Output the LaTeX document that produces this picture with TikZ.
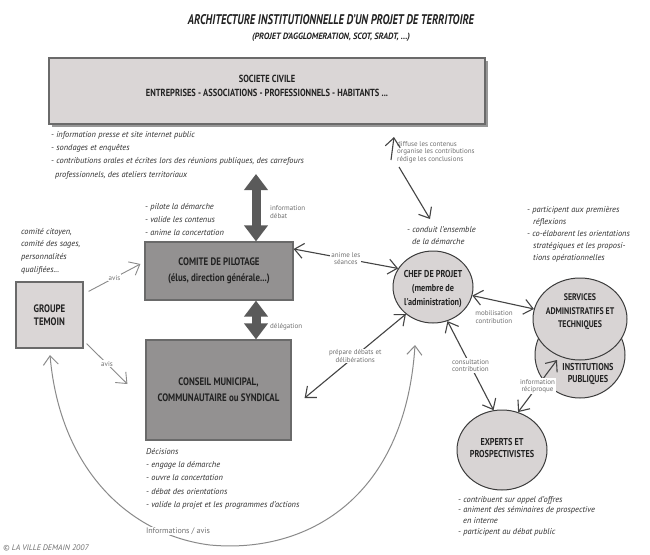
\documentclass[tikz,border=0pt]{standalone}
\usepackage{fontspec}
\setmainfont{PT Sans}
\newfontfamily\cond[FakeStretch=0.82]{PT Sans}
\usetikzlibrary{arrows.meta,shapes.geometric}
\definecolor{boxlight}{HTML}{DAD6D6}
\definecolor{boxdark}{HTML}{939191}
\definecolor{edgegray}{HTML}{6A6A6A}
\definecolor{circfill}{HTML}{D8D4D4}
\definecolor{circedge}{HTML}{3C3C3C}
\definecolor{txt}{HTML}{303030}
\definecolor{txtbox}{HTML}{222222}
\definecolor{lblgray}{HTML}{707070}
\definecolor{thickgray}{HTML}{5A5A5A}
\definecolor{thingray}{HTML}{444444}
\definecolor{softgray}{HTML}{8A8A8A}
\begin{document}
\begin{tikzpicture}[x=1pt,y=-1pt,
  sbox/.style={draw=edgegray, line width=1.3pt, fill=boxlight, inner sep=0pt},
  dbox/.style={draw=edgegray, line width=1.2pt, fill=boxdark, align=center, inner sep=0pt,
    font=\cond\bfseries\fontsize{10.8}{16}\selectfont, text=txtbox},
  lbox/.style={draw=edgegray, line width=1.2pt, fill=boxlight, align=center, inner sep=0pt,
    font=\cond\bfseries\fontsize{10.8}{13}\selectfont, text=txtbox},
  circ/.style={ellipse, draw=circedge, line width=1pt, fill=circfill, inner sep=0pt},
  circtext/.style={align=center, inner sep=0pt, font=\cond\bfseries\fontsize{10}{14}\selectfont, text=txtbox},
  itlist/.style={anchor=north west, align=left, inner sep=0pt, font=\itshape\fontsize{8.4}{13.3}\selectfont, text=txt},
  lbl/.style={align=center, inner sep=1pt, font=\fontsize{7}{7.5}\selectfont, text=lblgray},
  thickarrow/.style={draw=thickgray, line width=9pt, {Triangle[length=16pt,width=23pt]}-{Triangle[length=16pt,width=23pt]}},
  arr/.style={draw=thingray, line width=1.1pt, {Straight Barb[length=9pt,width=15pt]}-{Straight Barb[length=9pt,width=15pt]}},
  arrone/.style={draw=thingray, line width=1.1pt, -{Straight Barb[length=9pt,width=15pt]}},
  softarr/.style={draw=softgray, line width=0.9pt, -{Straight Barb[length=9pt,width=15pt]}},
  curvearr/.style={draw=softgray, line width=1pt, {Straight Barb[length=9pt,width=15pt]}-{Straight Barb[length=9pt,width=15pt]}},
]
\useasboundingbox[fill=white] (0,0) rectangle (650,554);

% title
\node[text=txtbox] (title) at (331,20) {\resizebox{286pt}{10pt}{\bfseries\itshape ARCHITECTURE INSTITUTIONNELLE D'UN PROJET DE TERRITOIRE}};
\node[text=txtbox] (subtitle) at (331,37) {\resizebox{158pt}{6.5pt}{\bfseries\itshape (PROJET D'AGGLOMERATION, SCOT, SRADT, ...)}};

% societe civile
\fill[edgegray!70] (51.5,60.5) rectangle (487.5,126.5);
\node[sbox, minimum width=436pt, minimum height=66pt,
  label={[align=center, yshift=5pt, font=\cond\bfseries\fontsize{10.3}{14}\selectfont, text=txtbox]center:{SOCIETE CIVILE\\ENTREPRISES - ASSOCIATIONS - PROFESSIONNELS - HABITANTS ...}}]
  (soc) at (267,91) {};

\node[itlist] (soclist) at (51,131) {- information presse et site internet public\\- sondages et enquêtes\\- contributions orales et écrites lors des réunions publiques, des carrefours\\\hspace*{4pt}professionnels, des ateliers territoriaux};

% boxes
\node[dbox, minimum width=148pt, minimum height=58pt] (comite) at (219,271) {COMITE DE PILOTAGE\\(élus, direction générale...)};
\node[dbox, minimum width=145pt, minimum height=100pt] (conseil) at (218.5,390) {CONSEIL MUNICIPAL,\\COMMUNAUTAIRE ou SYNDICAL};
\node[lbox, minimum width=67pt, minimum height=66pt] (groupe) at (49.5,315) {GROUPE\\TEMOIN};

\node[itlist] (pilote) at (145,203) {- pilote la démarche\\- valide les contenus\\- anime la concertation};
\node[itlist, font=\itshape\fontsize{8.4}{12.7}\selectfont] (citoyen) at (21,228) {comité citoyen,\\comité des sages,\\personnalités\\qualifiées...};
\node[itlist] (decisions) at (146,448) {Décisions\\- engage la démarche\\- ouvre la concertation\\- débat des orientations\\- valide la projet et les programmes d'actions};

% circles
\node[circ, minimum width=90pt, minimum height=86pt,
  label={[circtext, xshift=8pt, yshift=-19pt, font=\cond\bfseries\fontsize{10}{12}\selectfont]center:{INSTITUTIONS\\PUBLIQUES}}] (inst) at (580,355) {};
\node[circ, minimum width=94pt, minimum height=82pt,
  label={[circtext, yshift=7pt, font=\cond\bfseries\fontsize{9.6}{13.5}\selectfont]center:{SERVICES\\ADMINISTRATIFS ET\\TECHNIQUES}}] (services) at (580,319) {};
\node[circ, minimum width=80pt, minimum height=72pt,
  label={[circtext, yshift=-2pt]center:{CHEF DE PROJET\\(membre de\\l'administration)}}] (chef) at (433,287) {};
\node[circ, minimum width=90pt, minimum height=80pt,
  label={[circtext, yshift=2pt, font=\cond\bfseries\fontsize{10}{11.5}\selectfont]center:{EXPERTS ET\\PROSPECTIVISTES}}] (experts) at (502,450) {};

\node[itlist, font=\itshape\fontsize{8.4}{12}\selectfont] (conduit) at (407,226) {- conduit l'ensemble\\\hspace*{5pt}de la démarche};
\node[itlist, font=\itshape\fontsize{8.4}{12}\selectfont] (participent) at (527,206) {- participent aux premières\\\hspace*{6pt}réflexions\\- co-élaborent les orientations\\\hspace*{6pt}stratégiques et les proposi-\\\hspace*{6pt}tions opérationnelles};
\node[itlist, font=\itshape\fontsize{8.4}{10.7}\selectfont] (expertlist) at (458,496) {- contribuent sur appel d'offres\\- animent des séminaires de prospective\\\hspace*{5pt}en interne\\- participent au débat public};

% thick arrows
\coordinate (infotop) at (256,174);
\draw[thickarrow] (infotop) -- (infotop |- comite.north);
\draw[thickarrow] (comite.south -| infotop) -- (conseil.north -| infotop);
\node[lbl, anchor=west, align=left, inner sep=0pt] (infolbl) at (270,212) {information\\débat};
\node[lbl, anchor=west, inner sep=0pt] (deleglbl) at (270,327) {délégation};

% diffuse arrows
\node[lbl, anchor=north west, align=left, inner sep=0pt] (diffuse) at (397,141) {diffuse les contenus\\organise les contributions\\rédige les conclusions};
\coordinate (dtop) at (394,137);
\coordinate (dfoot) at (391,160);
\coordinate (dstart) at (399,167);
\coordinate (dend) at (430,219);
\draw[arrone] (dfoot) -- (dtop);
\draw[arrone] (dstart) -- (dend);

% chef connectors
\draw[arr] ([yshift=22pt]comite.east) -- node[lbl, fill=white]{anime les\\séances} (chef.152);
\draw[arr] ([xshift=13pt,yshift=-8pt]conseil.east) -- node[lbl, fill=white]{prépare débats et\\délibérations} (chef.-135);
\draw[arr] (chef) -- (services);
\node[lbl] (mobil) at (494,317) {mobilisation\\contribution};
\draw[arr] (chef.-67) -- node[lbl, fill=white]{consultation\\contribution} (experts.102);
\coordinate (instpt) at (557,360);
\draw[arr] (experts.67) -- node[lbl, fill=white]{information\\réciproque} (instpt);

% avis arrows
\draw[softarr] ([xshift=5pt,yshift=-10pt]groupe.north east) -- node[lbl, fill=white]{avis} ([xshift=-4pt,yshift=7pt]comite.west);
\draw[softarr] ([xshift=3pt,yshift=5pt]groupe.south east) -- node[lbl, fill=white]{avis} ([xshift=-18pt,yshift=6pt]conseil.west);

% big curve
\coordinate (cstart) at (50,355);
\coordinate (cbot) at (210,545);
\coordinate (cend) at (415,345);
\draw[curvearr] (cstart) .. controls (60,470) and (130,535) .. (cbot) .. controls (305,554) and (405,500) .. (cend);
\node[lbl, fill=white, font=\fontsize{8}{9}\selectfont] (infoavis) at (178,531) {Informations / avis};

\node[anchor=west, inner sep=0pt, text=lblgray, font=\itshape\fontsize{8}{9}\selectfont] (copy) at (3,548) {© LA VILLE DEMAIN 2007};
\end{tikzpicture}
\end{document}
